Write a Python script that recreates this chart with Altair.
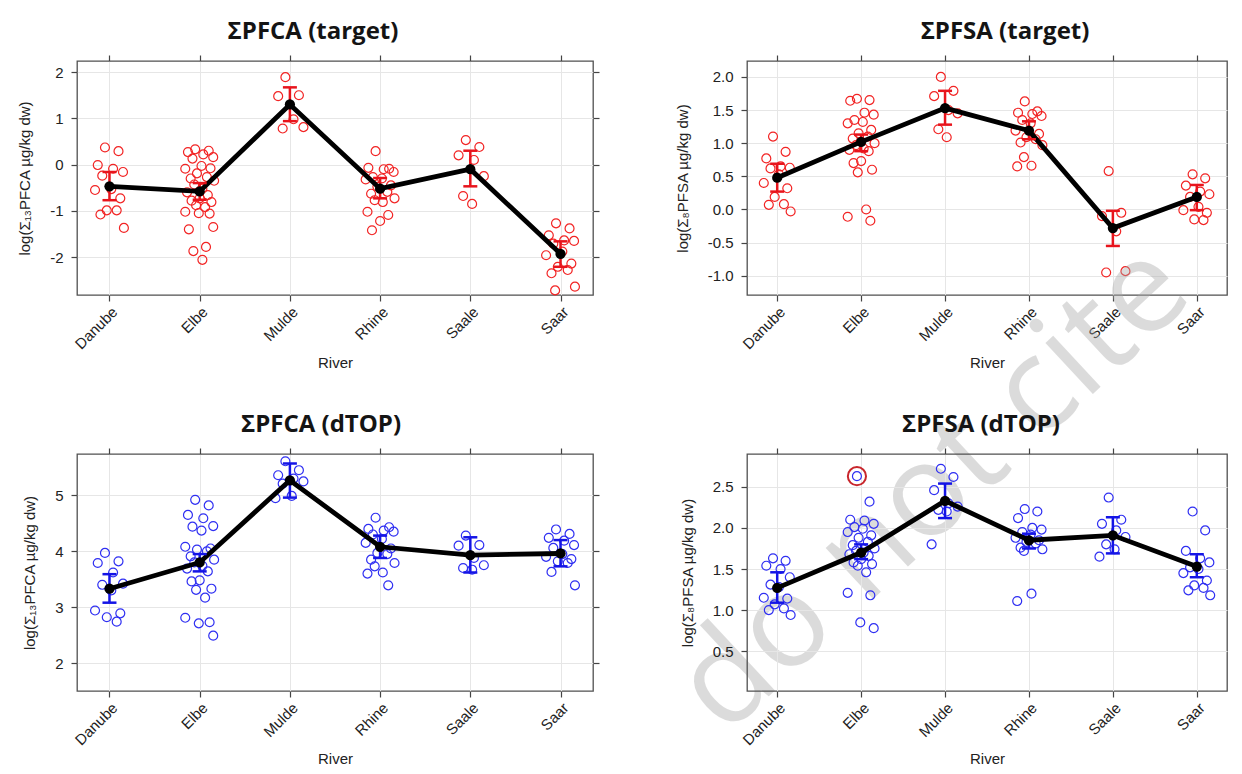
import altair as alt
import pandas as pd

RIVERS = ["Danube", "Elbe", "Mulde", "Rhine", "Saale", "Saar"]

# ---- Panel 1: ΣPFCA (target) ----
P1_DANUBE = [0.37, 0.29, -0.01, -0.09, -0.16, -0.24, -0.53, -0.55, -0.73, -0.99, -0.99, -1.08, -1.37]
P1_ELBE = [0.33, 0.30, 0.27, 0.22, 0.16, 0.13, -0.03, -0.09, -0.08, -0.19, -0.27, -0.30, -0.35, -0.43, -0.52,
           -0.60, -0.66, -0.73, -0.78, -0.81, -0.88, -0.92, -1.02, -1.06, -1.05, -1.35, -1.40, -1.78, -1.87, -2.06]
P1_MULDE = [1.89, 1.50, 1.48, 0.98, 0.81, 0.78]
P1_RHINE = [0.29, -0.09, -0.07, -0.10, -0.16, -0.27, -0.30, -0.32, -0.45, -0.48, -0.59, -0.63, -0.73, -0.77,
            -0.81, -1.02, -1.09, -1.22, -1.42]
P1_SAALE = [0.53, 0.38, 0.20, 0.10, -0.25, -0.68, -0.85]
P1_SAAR = [-1.27, -1.38, -1.53, -1.64, -1.65, -1.71, -1.88, -1.96, -2.14, -2.21, -2.28, -2.35, -2.64, -2.72]
P1_MEAN = [-0.47, -0.58, 1.30, -0.52, -0.10, -1.93]
P1_LO = [-0.77, -0.76, 0.94, -0.73, -0.47, -2.21]
P1_HI = [-0.16, -0.40, 1.67, -0.29, 0.30, -1.66]

# ---- Panel 2: ΣPFSA (target) ----
P2_DANUBE = [1.10, 0.87, 0.77, 0.65, 0.63, 0.62, 0.53, 0.40, 0.32, 0.19, 0.08, 0.07, -0.03]
P2_ELBE = [1.67, 1.65, 1.64, 1.46, 1.43, 1.35, 1.32, 1.30, 1.20, 1.15, 1.10, 1.07, 1.00, 0.97, 0.92, 0.90,
           0.88, 0.73, 0.70, 0.60, 0.56, 0.00, -0.11, -0.17]
P2_MULDE = [2.00, 1.79, 1.71, 1.50, 1.45, 1.21, 1.09]
P2_RHINE = [1.63, 1.48, 1.46, 1.44, 1.41, 1.35, 1.30, 1.19, 1.14, 1.09, 1.06, 1.01, 0.97, 0.79, 0.66, 0.65]
P2_SAALE = [0.58, -0.05, -0.10, -0.33, -0.93, -0.95]
P2_SAAR = [0.53, 0.47, 0.36, 0.27, 0.23, 0.19, 0.04, -0.01, -0.05, -0.15, -0.16]
P2_MEAN = [0.48, 1.02, 1.53, 1.19, -0.28, 0.19]
P2_LO = [0.27, 0.88, 1.28, 1.06, -0.55, -0.01]
P2_HI = [0.69, 1.13, 1.79, 1.33, -0.02, 0.37]

# ---- Panel 3: ΣPFCA (dTOP) ----
P3_DANUBE = [3.97, 3.82, 3.79, 3.62, 3.42, 3.40, 3.30, 2.94, 2.89, 2.82, 2.74]
P3_ELBE = [4.92, 4.82, 4.65, 4.59, 4.45, 4.44, 4.37, 4.08, 4.05, 4.03, 4.00, 3.91, 3.85, 3.80, 3.74, 3.69,
           3.64, 3.48, 3.46, 3.33, 3.31, 3.17, 2.81, 2.73, 2.71, 2.49]
P3_MULDE = [5.61, 5.45, 5.36, 5.30, 5.25, 5.21, 4.99, 4.95]
P3_RHINE = [4.60, 4.43, 4.40, 4.37, 4.35, 4.30, 4.22, 4.15, 4.05, 3.97, 3.95, 3.85, 3.79, 3.73, 3.62, 3.60, 3.39]
P3_SAALE = [4.28, 4.11, 4.10, 3.88, 3.75, 3.70, 3.67]
P3_SAAR = [4.39, 4.31, 4.24, 4.19, 4.11, 4.06, 3.95, 3.90, 3.86, 3.82, 3.79, 3.63, 3.39]
P3_MEAN = [3.33, 3.80, 5.27, 4.08, 3.93, 3.96]
P3_LO = [3.08, 3.64, 4.96, 3.88, 3.62, 3.73]
P3_HI = [3.59, 3.95, 5.57, 4.28, 4.25, 4.20]

# ---- Panel 4: ΣPFSA (dTOP) ----
P4_DANUBE = [1.63, 1.60, 1.54, 1.50, 1.40, 1.31, 1.28, 1.15, 1.14, 1.07, 1.02, 1.00, 0.94]
P4_ELBE = [2.63, 2.32, 2.10, 2.09, 2.05, 2.01, 1.99, 1.95, 1.91, 1.88, 1.83, 1.79, 1.75, 1.72, 1.70, 1.68,
           1.66, 1.62, 1.58, 1.56, 1.54, 1.46, 1.21, 1.18, 0.85, 0.78]
P4_MULDE = [2.72, 2.62, 2.46, 2.30, 2.26, 2.22, 2.20, 1.80]
P4_RHINE = [2.23, 2.20, 2.12, 2.00, 1.98, 1.95, 1.92, 1.88, 1.85, 1.83, 1.81, 1.76, 1.74, 1.72, 1.20, 1.11]
P4_SAALE = [2.37, 2.10, 2.05, 1.97, 1.89, 1.80, 1.74, 1.65]
P4_SAAR = [2.20, 1.97, 1.72, 1.63, 1.58, 1.52, 1.50, 1.45, 1.36, 1.30, 1.27, 1.24, 1.18]
P4_MEAN = [1.27, 1.70, 2.33, 1.85, 1.91, 1.53]
P4_LO = [1.09, 1.62, 2.12, 1.75, 1.69, 1.40]
P4_HI = [1.46, 1.80, 2.54, 1.93, 2.13, 1.68]

# highlighted (ringed) sample in panel 4
RING_RIVER = "Elbe"
RING_VALUE = 2.63

WATERMARK = "do not cite"

# horizontal jitter pattern (fraction of category step)
JITTER = [-0.05, 0.10, -0.13, 0.04, 0.15, -0.08, 0.02, -0.16, 0.12, -0.03, 0.08, -0.10, 0.16, -0.06, 0.03,
          -0.14, 0.09, 0.00, -0.09, 0.13, -0.04, 0.06, -0.16, 0.11, -0.01, 0.15, -0.12, 0.07, -0.07, 0.03]

RED_PT = "#f22424"
RED_BAR = "#e8141c"
BLUE_PT = "#2f2ff2"
BLUE_BAR = "#1414e6"
FONT = "Liberation Sans"


def points_df(groups):
    rows = []
    for i, vals in enumerate(groups):
        for j, v in enumerate(vals):
            rows.append({"river": RIVERS[i], "pos": i + JITTER[j % len(JITTER)], "value": v})
    return pd.DataFrame(rows)


def stats_df(mean, lo, hi):
    return pd.DataFrame({"river": RIVERS, "idx": list(range(len(RIVERS))), "mean": mean, "lo": lo, "hi": hi})


LABEL_EXPR = "[" + ",".join("'%s'" % r for r in RIVERS) + "][datum.value]"
HYPHEN_EXPR = "replace(datum.label, '\u2212', '-')"

# plot-area geometry
W_LEFT, W_RIGHT = 516, 480
H_TOP, H_BOT = 234, 237
COL_GAP, ROW_GAP = 154, 159


def watermark_layer(dx, dy):
    def make(xs, ys):
        return alt.Chart(pd.DataFrame({"t": [WATERMARK]})).mark_text(
            font="Open Sans", fontSize=130, angle=317, align="left", baseline="alphabetic",
            color="#a8a8a8", opacity=0.4,
        ).encode(text="t:N", x=alt.value(dx), y=alt.value(dy))
    return make


def panel(title, ytitle, pts, stats, domain, ticks, fmt, pt_color, bar_color, w, h, right_ticks,
          title_dx=0, under=(), extra=()):
    xs = alt.Scale(domain=[-0.36, 5.36], nice=False, zero=False)
    ys = alt.Scale(domain=domain, nice=False, zero=False)
    x_bottom = alt.Axis(values=list(range(6)), labelExpr=LABEL_EXPR, labelAngle=315, title="River",
                        grid=True, labelPadding=3, titlePadding=4, orient="bottom")
    x_top = alt.Axis(values=list(range(6)), labels=False, title=None, grid=False, orient="top")
    y_left = alt.Axis(values=ticks, format=fmt, labelExpr=HYPHEN_EXPR, title=ytitle, grid=True,
                      labelPadding=8, titlePadding=17, orient="left")
    y_right = alt.Axis(values=ticks, labels=False, title=None, grid=False, orient="right")

    pts_layer = alt.Chart(pts).mark_point(shape="circle", filled=False, size=80, strokeWidth=1.2,
                                          color=pt_color, opacity=1).encode(
        x=alt.X("pos:Q", scale=xs, axis=x_bottom),
        y=alt.Y("value:Q", scale=ys, axis=y_left),
    )
    line = alt.Chart(stats).mark_line(color="black", strokeWidth=4.8).encode(
        x=alt.X("idx:Q", scale=xs, axis=x_top),
        y=alt.Y("mean:Q", scale=ys, axis=y_right if right_ticks else None),
    )
    err = alt.Chart(stats).mark_rule(color=bar_color, strokeWidth=2.5).encode(
        x=alt.X("idx:Q", scale=xs, axis=None),
        y=alt.Y("lo:Q", scale=ys, axis=None),
        y2="hi:Q",
    )
    cap_lo = alt.Chart(stats).mark_tick(color=bar_color, orient="horizontal", size=14, thickness=2.5,
                                        opacity=1).encode(
        x=alt.X("idx:Q", scale=xs, axis=None),
        y=alt.Y("lo:Q", scale=ys, axis=None),
    )
    cap_hi = alt.Chart(stats).mark_tick(color=bar_color, orient="horizontal", size=14, thickness=2.5,
                                        opacity=1).encode(
        x=alt.X("idx:Q", scale=xs, axis=None),
        y=alt.Y("hi:Q", scale=ys, axis=None),
    )
    dots = alt.Chart(stats).mark_circle(color="black", size=105, opacity=1).encode(
        x=alt.X("idx:Q", scale=xs, axis=None),
        y=alt.Y("mean:Q", scale=ys, axis=None),
    )
    layers = [pts_layer] + [u(xs, ys) for u in under] + [line, err, cap_lo, cap_hi, dots]
    layers += [e(xs, ys) for e in extra]
    return alt.layer(*layers).resolve_axis(x="independent", y="independent").properties(
        width=w, height=h,
        title=alt.TitleParams(title, font="Open Sans", fontSize=24, fontWeight="bold", color="#141414",
                              offset=10, anchor="middle", dx=title_dx),
    )


pts1 = points_df([P1_DANUBE, P1_ELBE, P1_MULDE, P1_RHINE, P1_SAALE, P1_SAAR])
pts2 = points_df([P2_DANUBE, P2_ELBE, P2_MULDE, P2_RHINE, P2_SAALE, P2_SAAR])
pts3 = points_df([P3_DANUBE, P3_ELBE, P3_MULDE, P3_RHINE, P3_SAALE, P3_SAAR])
pts4 = points_df([P4_DANUBE, P4_ELBE, P4_MULDE, P4_RHINE, P4_SAALE, P4_SAAR])

ring_df = pts4[(pts4["river"] == RING_RIVER) & (pts4["value"] == RING_VALUE)]


def ring_layer(xs, ys):
    return alt.Chart(ring_df).mark_point(shape="circle", filled=False, size=330, strokeWidth=2,
                                         color="#c8262c", opacity=1).encode(
        x=alt.X("pos:Q", scale=xs, axis=None),
        y=alt.Y("value:Q", scale=ys, axis=None),
    )


YT_PFCA = "log(Σ₁₃PFCA µg/kg dw)"
YT_PFSA = "log(Σ₈PFSA µg/kg dw)"

# watermark anchored in the top-right panel, running down across the bottom-right one
WM_DX, WM_DY = -22, 676

p1 = panel("ΣPFCA (target)", YT_PFCA, pts1, stats_df(P1_MEAN, P1_LO, P1_HI), [-2.82, 2.24],
           [-2, -1, 0, 1, 2], "d", RED_PT, RED_BAR, W_LEFT, H_TOP, True, title_dx=-22)
p2 = panel("ΣPFSA (target)", YT_PFSA, pts2, stats_df(P2_MEAN, P2_LO, P2_HI), [-1.29, 2.24],
           [-1.0, -0.5, 0.0, 0.5, 1.0, 1.5, 2.0], ".1f", RED_PT, RED_BAR, W_RIGHT, H_TOP, False,
           title_dx=18, under=(watermark_layer(WM_DX, WM_DY),))
p3 = panel("ΣPFCA (dTOP)", YT_PFCA, pts3, stats_df(P3_MEAN, P3_LO, P3_HI), [1.5, 5.74],
           [2, 3, 4, 5], "d", BLUE_PT, BLUE_BAR, W_LEFT, H_BOT, True, title_dx=-14)
p4 = panel("ΣPFSA (dTOP)", YT_PFSA, pts4, stats_df(P4_MEAN, P4_LO, P4_HI), [0.015, 2.9],
           [0.5, 1.0, 1.5, 2.0, 2.5], ".1f", BLUE_PT, BLUE_BAR, W_RIGHT, H_BOT, False,
           title_dx=-6, extra=(ring_layer,))

chart = alt.concat(
    p1, p2, p3, p4, columns=2, spacing={"row": ROW_GAP, "column": COL_GAP}, bounds="flush", align="each"
).properties(
    padding={"left": 9, "top": 11, "right": 0, "bottom": 0}
).configure_view(
    stroke="#505050", strokeWidth=1.3
).configure_axis(
    labelFont=FONT, labelFontSize=15, labelColor="#222222",
    titleFont=FONT, titleFontSize=15, titleFontWeight="normal", titleColor="#222222",
    tickColor="#444444", tickSize=6, tickWidth=1.2, domain=False,
    gridColor="#e6e6e6", gridWidth=1,
)

chart.save("out.html", embed_options={"renderer": "svg", "actions": False})
